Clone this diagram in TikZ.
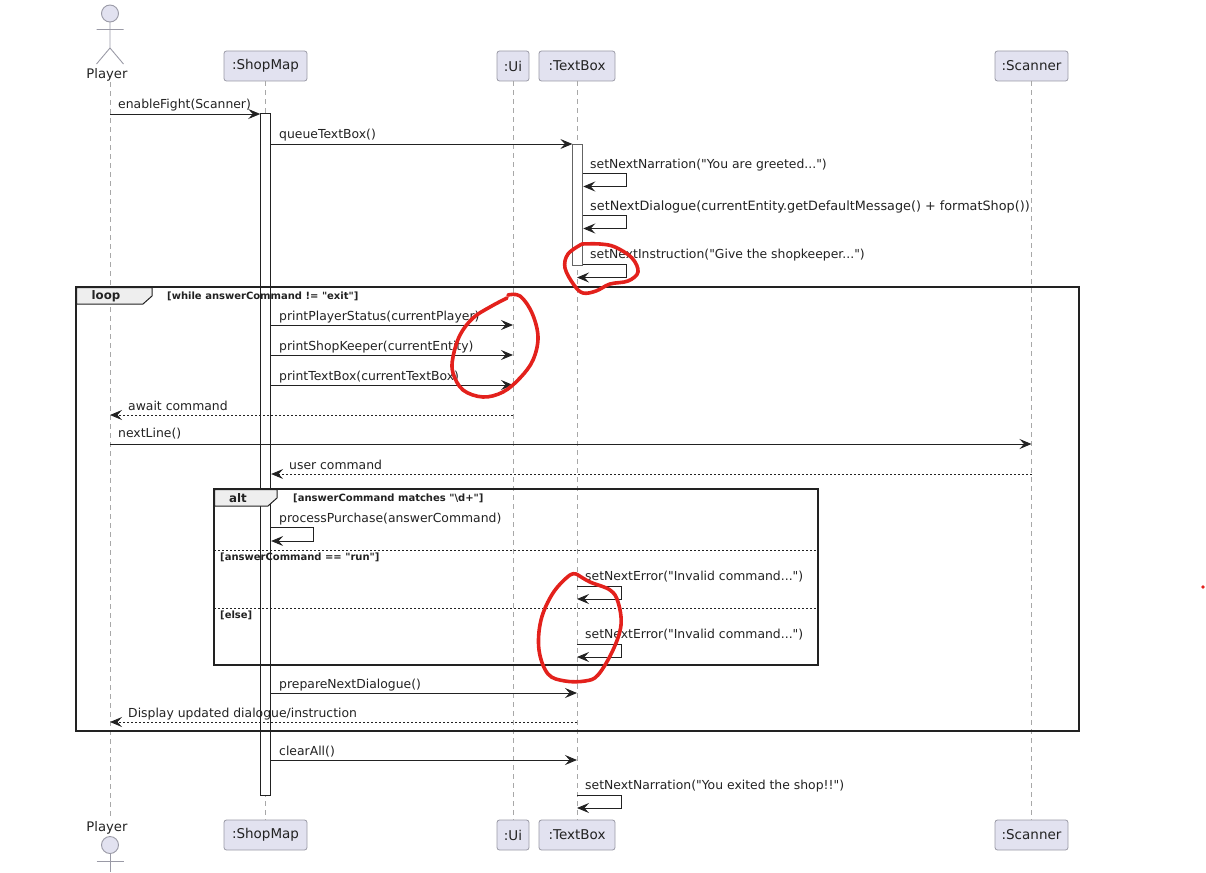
\documentclass[tikz,border=0pt]{standalone}
\usepackage{fontspec}
\setmainfont{DejaVu Sans}[Ligatures=TeXOff]
\usetikzlibrary{arrows.meta,calc}
\definecolor{partfill}{HTML}{E2E2F0}
\definecolor{partline}{HTML}{9A9AA6}
\definecolor{lifeline}{HTML}{A8A8A8}
\definecolor{tabfill}{HTML}{EEEEEE}
\definecolor{ink}{HTML}{222222}
\definecolor{scrib}{HTML}{E3211C}
\tikzset{
  part/.style={draw=partline,fill=partfill,rounded corners=2.5pt,line width=.8pt,minimum height=30pt,inner sep=0pt,text=ink,font=\fontsize{13.5}{16}\selectfont},
  life/.style={draw=lifeline,line width=.9pt,dash pattern=on 5pt off 4pt},
  actorline/.style={draw=partline,line width=.9pt},
  msg/.style={draw=ink,line width=.9pt,-{Stealth[length=12pt,width=10pt,inset=4.5pt]}},
  reply/.style={msg,dash pattern=on 2pt off 2pt},
  lab/.style={anchor=west,inner sep=0pt,text=ink,font=\fontsize{12.4}{14}\selectfont},
  guard/.style={anchor=west,inner sep=0pt,text=ink,font=\bfseries\fontsize{10}{11}\selectfont},
  tabtxt/.style={inner sep=0pt,text=ink,font=\bfseries\fontsize{11.8}{14}\selectfont},
  frm/.style={draw=ink,line width=1.6pt},
  tabshape/.style={draw=ink,line width=1pt,fill=tabfill},
  divider/.style={draw=ink,line width=.8pt,dash pattern=on 2pt off 2pt},
  bar/.style={draw=ink,fill=white,line width=.9pt,inner sep=0pt},
  scribble/.style={draw=scrib,line width=3.6pt,line cap=round,line join=round}
}
\begin{document}
\begin{tikzpicture}[x=1pt,y=-1pt]
\useasboundingbox (0,0) rectangle (1206,872);
% participants (top)
\node[part,minimum width=83pt] (shopT) at (265.5,66) {:ShopMap};
\node[part,minimum width=32pt] (uiT) at (513,66) {:Ui};
\node[part,minimum width=76pt] (tbT) at (577,66) {:TextBox};
\node[part,minimum width=73pt] (scT) at (1031.5,66) {:Scanner};
\node[inner sep=0pt,text=ink,font=\fontsize{13.2}{16}\selectfont] (plT) at (107,75) {Player};
% participants (bottom)
\node[part,minimum width=83pt] (shopB) at (265.5,835) {:ShopMap};
\node[part,minimum width=32pt] (uiB) at (513,835) {:Ui};
\node[part,minimum width=76pt] (tbB) at (577,835) {:TextBox};
\node[part,minimum width=73pt] (scB) at (1031.5,835) {:Scanner};
\node[inner sep=0pt,text=ink,font=\fontsize{13.2}{16}\selectfont] (plB) at (107,828) {Player};
% lifelines
\coordinate (plTop) at (110,82);
\coordinate (plBot) at (110,820);
\draw[life] (plTop) -- (plBot);
\draw[life] (shopT.south) -- (shopB.north);
\draw[life] (uiT.south) -- (uiB.north);
\draw[life] (tbT.south) -- (tbB.north);
\draw[life] (scT.south) -- (scB.north);
% actors
\draw[actorline,fill=partfill] (110,13.5) circle (8.5);
\draw[actorline] (110,22) -- (110,48) (96.5,29.5) -- (123.5,29.5) (96.5,64) -- (110,48) -- (123.5,64);
\draw[actorline] (110,853.5) -- (110,872) (96.5,861) -- (123.5,861);
\draw[actorline,fill=partfill] (110,845) circle (8.5);
% activation bars
\node[bar,minimum width=10pt,minimum height=682pt] (shopBar) at (265.7,454) {};
\node[bar,minimum width=10pt,minimum height=121pt,draw=ink!70] (tbBar) at (577.8,204.5) {};
% frames
\draw[frm] (76,287) rectangle (1079,731);
\draw[tabshape] (76.5,287.5) -- (152,287.5) -- (152,296) -- (143,304) -- (76.5,304) -- cycle;
\node[tabtxt] (loopT) at (106,296) {loop};
\node[guard] (loopG) at (167,296) {[while answerCommand != "exit"]};
\draw[frm] (214,489) rectangle (818,665);
\draw[tabshape] (214.5,489.5) -- (277,489.5) -- (277,498) -- (268,506) -- (214.5,506) -- cycle;
\node[tabtxt] (altT) at (238,498) {alt};
\node[guard] (altG) at (293,498) {[answerCommand matches "\textbackslash d+"]};
\draw[divider] (214,550) -- (818,550);
\node[guard] (altG2) at (220,557) {[answerCommand == "run"]};
\draw[divider] (214,608) -- (818,608);
\node[guard] (altG3) at (220,615) {[else]};
% messages
\draw[msg] (plTop |- 0,114) -- (shopBar.west |- 0,114);
\node[lab] (m1) at (118,105) {enableFight(Scanner)};
\draw[msg] (shopBar.east |- 0,144) -- (tbBar.west |- 0,144);
\node[lab] (m2) at (279,135) {queueTextBox()};
% TextBox self messages
\draw[msg] (tbBar.east |- 0,173.5) -| (626,186.5) -- (tbBar.east |- 0,186.5);
\node[lab] (m3) at (590,165) {setNextNarration("You are greeted...")};
\draw[msg] (tbBar.east |- 0,215.5) -| (626,228.5) -- (tbBar.east |- 0,228.5);
\node[lab,font=\fontsize{12.8}{14}\selectfont] (m4) at (590,207) {setNextDialogue(currentEntity.getDefaultMessage() + formatShop())};
\draw[msg] (tbBar.east |- 0,264) -| (626,277.5) -- (tbT |- 0,277.5);
\node[lab] (m5) at (590,255) {setNextInstruction("Give the shopkeeper...")};
% loop
\draw[msg] (shopBar.east |- 0,325) -- (uiT |- 0,325);
\node[lab] (m6) at (279,317) {printPlayerStatus(currentPlayer)};
\draw[msg] (shopBar.east |- 0,355) -- (uiT |- 0,355);
\node[lab] (m7) at (279,347) {printShopKeeper(currentEntity)};
\draw[msg] (shopBar.east |- 0,385) -- (uiT |- 0,385);
\node[lab] (m8) at (279,377) {printTextBox(currentTextBox)};
\draw[reply] (uiT |- 0,415) -- (plTop |- 0,415);
\node[lab] (m9) at (128,406) {await command};
\draw[msg] (plTop |- 0,444) -- (scT |- 0,444);
\node[lab] (m10) at (118,434) {nextLine()};
\draw[reply] (scT |- 0,474) -- (shopBar.east |- 0,474);
\node[lab] (m11) at (289,465) {user command};
% alt
\draw[msg] (shopBar.east |- 0,527.5) -| (313.5,541) -- (shopBar.east |- 0,541);
\node[lab] (m12) at (279,519.5) {processPurchase(answerCommand)};
\draw[msg] (tbT |- 0,586) -| (621,599) -- (tbT |- 0,599);
\node[lab] (m13) at (585,577) {setNextError("Invalid command...")};
\draw[msg] (tbT |- 0,644) -| (621,657) -- (tbT |- 0,657);
\node[lab] (m14) at (585,635) {setNextError("Invalid command...")};
% after alt
\draw[msg] (shopBar.east |- 0,693) -- (tbT |- 0,693);
\node[lab] (m15) at (279,685) {prepareNextDialogue()};
\draw[reply] (tbT |- 0,722) -- (plTop |- 0,722);
\node[lab] (m16) at (128,714) {Display updated dialogue/instruction};
\draw[msg] (shopBar.east |- 0,760) -- (tbT |- 0,760);
\node[lab] (m17) at (279,752) {clearAll()};
\draw[msg] (tbT |- 0,795) -| (621,808) -- (tbT |- 0,808);
\node[lab] (m18) at (585,786) {setNextNarration("You exited the shop!!")};
% red annotations
\draw[scribble] plot[smooth,tension=.6] coordinates {(582,244) (600,244) (615,247) (632,258) (638,272) (628,281) (610,284) (596,291) (583,293) (574,285) (565,268) (568,254) (582,244)};
\draw[scribble] plot[smooth,tension=.6] coordinates {(508,295) (520,296) (532,313) (538,337) (533,360) (520,378) (503,392) (483,397) (463,390) (453,373) (453,357) (460,335) (473,318) (490,307) (507,298)};
\draw[scribble] plot[smooth,tension=.6] coordinates {(578,575) (590,582) (610,590) (618,602) (621,625) (613,650) (598,675) (585,681) (565,681) (548,674) (539,650) (541,620) (553,593) (570,575) (578,575)};
\fill[scrib] (1203,587) circle (1.8);
\end{tikzpicture}
\end{document}
